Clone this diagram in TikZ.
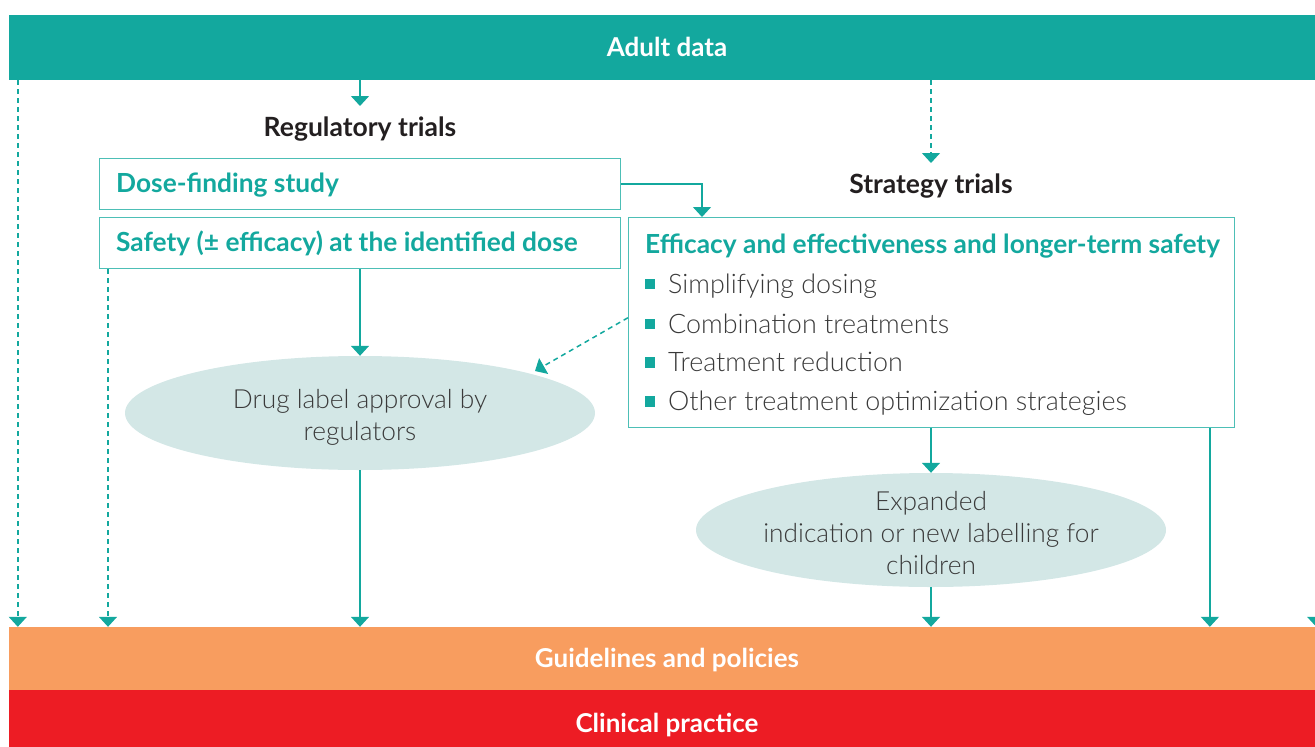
\documentclass[tikz,border=0pt]{standalone}
\usepackage{fontspec}
\setmainfont{Lato}
\newfontfamily\lightfont{Lato Light}
\usetikzlibrary{arrows.meta,shapes.geometric}
\definecolor{tealm}{HTML}{13A89E}
\definecolor{tealb}{HTML}{4DBFB6}
\definecolor{ellc}{HTML}{D3E7E6}
\definecolor{orng}{HTML}{F89D5F}
\definecolor{redc}{HTML}{ED1C24}
\definecolor{txtc}{HTML}{3A3A3A}
\definecolor{darkc}{HTML}{231F20}
\begin{document}
\begin{tikzpicture}[x=1pt,y=-1pt,
  capc/.style={inner sep=0pt,text height=18.7pt,text depth=0pt},
  bar/.style={fill=#1,draw=none,minimum width=1306pt,inner sep=0pt},
  bartxt/.style={capc,text=white,font=\fontsize{26}{30}\selectfont\bfseries},
  box/.style={draw=tealb,line width=1.4pt,anchor=north west,inner sep=0pt},
  boxtxt/.style={capc,anchor=west,text=tealm,font=\fontsize{26.3}{30}\selectfont\bfseries},
  heading/.style={capc,text=darkc,font=\fontsize{26.5}{30}\selectfont\bfseries},
  ell/.style={ellipse,fill=ellc,draw=none,minimum width=470pt,minimum height=114pt,inner sep=0pt},
  elltxt/.style={capc,text=txtc,font=\fontsize{26.3}{30}\selectfont\lightfont},
  bul/.style={fill=tealm,minimum size=10.5pt,inner sep=0pt},
  bultxt/.style={capc,anchor=west,text=txtc,font=\fontsize{26.9}{30}\selectfont\lightfont},
  arr/.style={draw=tealm,line width=1.5pt,-{Triangle[width=18pt,length=10pt]}},
  darr/.style={arr,dash pattern=on 5pt off 4pt}]
\useasboundingbox (0,0) rectangle (1315,747);
% bars
\node[bar=tealm,minimum height=65pt] (adult) at (662,47.5) {};
\node[bartxt] (adulttxt) at (667,47.5) {Adult data};
\node[bar=orng,minimum height=63pt] (guide) at (662,658.5) {};
\node[bartxt] (guidetxt) at (667,658.5) {Guidelines and policies};
\node[bar=redc,minimum height=57pt] (clin) at (662,718.5) {};
\node[bartxt] (clintxt) at (667,723.5) {Clinical practice};
% headings
\node[heading] (reg) at (360,127) {Regulatory trials};
\node[heading] (strat) at (931,184) {Strategy trials};
\coordinate (regtop) at (360,106);
\coordinate (strattop) at (931,163);
% boxes
\node[box,minimum width=521pt,minimum height=51pt] (dose) at (99,158) {};
\node[boxtxt] (dosetxt) at (116,183.5) {Dose-finding study};
\node[box,minimum width=521pt,minimum height=51pt] (safe) at (99,217) {};
\node[boxtxt] (safetxt) at (116,242.5) {Safety (± efficacy) at the identified dose};
\node[box,minimum width=606pt,minimum height=210pt] (eff) at (628,217) {};
\node[boxtxt] (efftxt) at (645,244) {Efficacy and effectiveness and longer-term safety};
\node[bul] (b1) at (650,284) {};
\node[bultxt] (t1) at (668,284) {Simplifying dosing};
\node[bul] (b2) at (650,324) {};
\node[bultxt] (t2) at (668,324) {Combination treatments};
\node[bul] (b3) at (650,362.5) {};
\node[bultxt] (t3) at (668,362.5) {Treatment reduction};
\node[bul] (b4) at (650,401.5) {};
\node[bultxt] (t4) at (668,401.5) {Other treatment optimization strategies};
\coordinate (effin) at (702,217);
% ellipses
\node[ell] (ell1) at (360,413) {};
\node[elltxt] (ell1a) at (360,399) {Drug label approval by};
\node[elltxt] (ell1b) at (360,431) {regulators};
\node[ell] (ell2) at (931,530) {};
\node[elltxt] (ell2a) at (931,501) {Expanded};
\node[elltxt] (ell2b) at (931,533) {indication or new labelling for};
\node[elltxt] (ell2c) at (931,565) {children};
\coordinate (ell1tip) at (535,371);
% connectors
\draw[arr] (adult.south -| regtop) -- (regtop);
\draw[darr] (adult.south -| strattop) -- (strattop);
\draw[arr] (dose.east) -| (effin);
\draw[arr] (safe.south -| ell1.north) -- (ell1.north);
\draw[arr] (ell1.south) -- (ell1.south |- guide.north);
\draw[darr] ([yshift=5pt]eff.west) -- (ell1tip);
\draw[arr] (eff.south -| ell2.north) -- (ell2.north);
\draw[arr] (ell2.south) -- (ell2.south |- guide.north);
\draw[arr] ([xshift=-25.5pt]eff.south east) -- ([xshift=-25.5pt]eff.south east |- guide.north);
\draw[darr] ([xshift=9pt]adult.south west) -- ([xshift=9pt]guide.north west);
\draw[darr] ([xshift=9pt]safe.south west) -- ([xshift=9pt]safe.south west |- guide.north);
\draw[darr] ([xshift=1pt]adult.south east) -- ([xshift=1pt]guide.north east);
\end{tikzpicture}
\end{document}
